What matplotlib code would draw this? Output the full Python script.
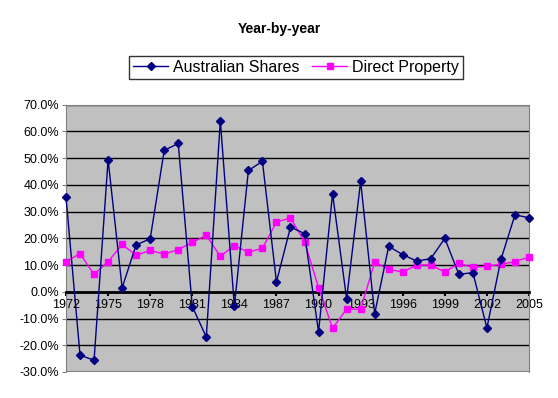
import matplotlib.pyplot as plt
import matplotlib
from matplotlib.ticker import FuncFormatter, MultipleLocator

years = list(range(1972, 2006))
shares = [35.5, -23.7, -25.6, 49.4, 1.5, 17.6, 19.8, 52.9, 55.5, -5.5,
          -16.9, 64.0, -5.4, 45.4, 48.8, 3.7, 24.2, 21.8, -15.0, 36.7,
          -2.6, 41.3, -8.2, 17.0, 13.9, 11.5, 12.4, 20.0, 6.5, 7.2,
          -13.5, 12.1, 28.8, 27.7]
property_ = [11.3, 14.3, 6.5, 11.3, 17.7, 13.7, 15.5, 14.1, 15.8, 18.5,
             21.1, 13.3, 17.3, 14.8, 16.3, 26.1, 27.6, 18.8, 1.6, -13.6,
             -6.5, -6.5, 11.1, 8.4, 7.4, 10.0, 10.0, 7.4, 10.7, 9.1,
             9.6, 10.3, 11.3, 13.0]
xtick_years = list(range(1972, 2006, 3))

matplotlib.rcParams['font.family'] = ['Liberation Sans', 'DejaVu Sans']

fig = plt.figure(figsize=(5.58, 3.98), dpi=100)
ax = fig.add_axes([66 / 558, 1 - 372 / 398, (529 - 66) / 558, (372 - 104.7) / 398])
ax.set_facecolor('#c0c0c0')

ax.plot(years, shares, color='#000080', marker='D', markersize=4.5, lw=1,
        label='Australian Shares', clip_on=False, zorder=4)
ax.plot(years, property_, color='#ff00ff', marker='s', markersize=5, lw=1,
        label='Direct Property', clip_on=False, zorder=3)

ax.set_xlim(1972, 2005)
ax.set_ylim(-30, 70)
ax.yaxis.set_major_locator(MultipleLocator(10))
ax.yaxis.set_major_formatter(FuncFormatter(lambda v, p: '%.1f%%' % v))
ax.set_xticks(xtick_years)
ax.set_xticklabels([str(y) for y in xtick_years])
ax.yaxis.grid(True, color='black', lw=1)
ax.set_axisbelow(True)

for s in ['left', 'right', 'top']:
    ax.spines[s].set_color('#808080')
ax.spines['bottom'].set_position(('data', 0))
ax.spines['bottom'].set_linewidth(2)
ax.spines['bottom'].set_color('black')
ax.axhline(-30, color='#808080', lw=1.5, zorder=2.6)

ax.tick_params(axis='x', length=3, width=1.5, pad=2, labelsize=9)
ax.tick_params(axis='y', length=3, color='#808080', pad=2, labelsize=9)

fig.text(0.5, 1 - 29 / 398, 'Year-by-year', ha='center', va='center',
         fontsize=10, fontweight='bold')
leg = fig.legend(loc='center', bbox_to_anchor=(296 / 558, 1 - 67.5 / 398), ncol=2,
                 fontsize=11.5, frameon=True, fancybox=False, edgecolor='black',
                 handlelength=2.2, handletextpad=0.3, columnspacing=0.8,
                 borderpad=0.25, markerscale=0.8)
leg.get_frame().set_linewidth(1)

fig.savefig('out.png', dpi=100)
